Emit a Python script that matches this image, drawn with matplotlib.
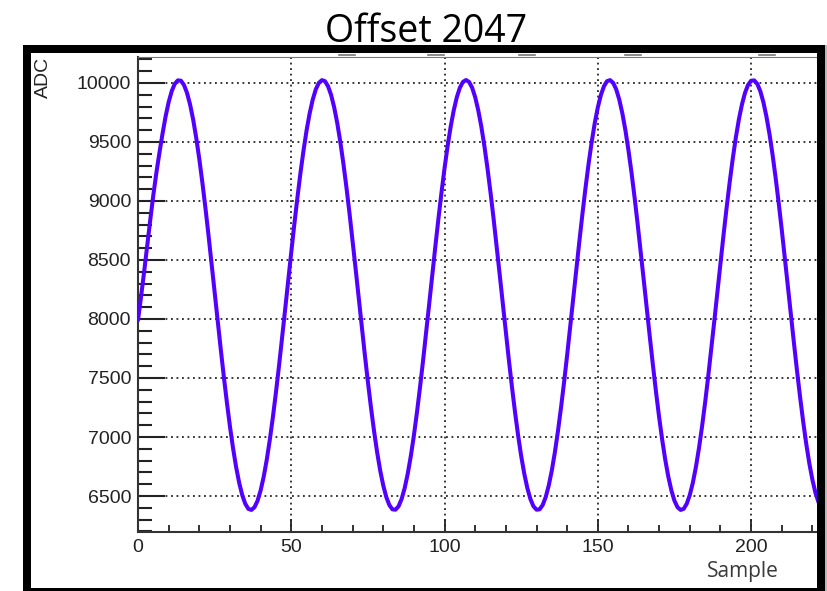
import numpy as np
import matplotlib.pyplot as plt
from matplotlib.patches import Rectangle
from matplotlib.lines import Line2D
from matplotlib.ticker import MultipleLocator

# ADC reading for each sample
adc = [
    7990, 8190, 8400, 8620, 8840, 9050, 9240, 9410, 9570, 9716,
    9838, 9931, 9993, 10022, 10019, 9983, 9915, 9816, 9689, 9534,
    9355, 9156, 8940, 8710, 8471, 8227, 7983, 7743, 7511, 7292,
    7089, 6906, 6746, 6613, 6508, 6434, 6391, 6382, 6405, 6460,
    6547, 6663, 6807, 6977, 7168, 7378, 7603, 7839, 8081, 8325,
    8567, 8803, 9028, 9238, 9429, 9599, 9743, 9859, 9946, 10001,
    10024, 10015, 9972, 9898, 9793, 9660, 9500, 9317, 9114, 8895,
    8663, 8423, 8179, 7935, 7696, 7466, 7250, 7051, 6872, 6717,
    6590, 6491, 6423, 6387, 6384, 6413, 6475, 6568, 6690, 6839,
    7013, 7209, 7422, 7649, 7887, 8130, 8374, 8615, 8849, 9071,
    9278, 9465, 9630, 9768, 9879, 9960, 10009, 10025, 10009, 9960,
    9879, 9768, 9630, 9465, 9278, 9071, 8849, 8615, 8374, 8130,
    7887, 7649, 7422, 7209, 7013, 6839, 6690, 6568, 6475, 6413,
    6384, 6387, 6423, 6491, 6590, 6717, 6872, 7051, 7250, 7466,
    7696, 7935, 8179, 8423, 8663, 8895, 9114, 9317, 9500, 9660,
    9793, 9898, 9972, 10015, 10024, 10001, 9946, 9859, 9743, 9599,
    9429, 9238, 9028, 8803, 8567, 8325, 8081, 7839, 7603, 7378,
    7168, 6977, 6807, 6663, 6547, 6460, 6405, 6382, 6391, 6434,
    6508, 6613, 6746, 6906, 7089, 7292, 7511, 7743, 7983, 8227,
    8471, 8710, 8940, 9156, 9355, 9534, 9689, 9816, 9915, 9983,
    10019, 10022, 9993, 9931, 9838, 9716, 9567, 9393, 9197, 8984,
    8757, 8519, 8276, 8032, 7791, 7557, 7335, 7128, 6941, 6776,
    6638, 6527, 6446,
]
samples = np.arange(len(adc))

title = "Offset 2047"
x_label = "Sample"
y_label = "ADC"
x_major = [0, 50, 100, 150, 200]
y_major = [6500, 7000, 7500, 8000, 8500, 9000, 9500, 10000]

W, H = 828, 591
fig = plt.figure(figsize=(W / 100, H / 100), dpi=100)


def fx(px):
    return px / W


def fy(py):
    return 1 - py / H


ax = fig.add_axes([fx(138), fy(532), fx(817) - fx(138), fy(57) - fy(532)])
ax.plot(samples, adc, color="#5200ff", lw=2.9, solid_joinstyle="round",
        solid_capstyle="round", zorder=3)
ax.set_xlim(0, 221.5)
ax.set_ylim(6195, 10220)

ax.set_xticks(x_major)
ax.set_yticks(y_major)
ax.xaxis.set_minor_locator(MultipleLocator(10))
ax.yaxis.set_minor_locator(MultipleLocator(100))
ax.tick_params(which="both", direction="in", top=False, right=False,
               colors="#222222", labelsize=14, pad=5)
ax.tick_params(axis="y", which="major", length=19.5, width=1.5)
ax.tick_params(axis="y", which="minor", length=10, width=1.5)
ax.tick_params(axis="x", which="major", length=9.5, width=1.3)
ax.tick_params(axis="x", which="minor", length=5, width=1.3)
for lab in ax.get_xticklabels() + ax.get_yticklabels():
    lab.set_fontfamily("Liberation Sans")
    lab.set_color("#222222")

ax.grid(True, which="major", color="black", linestyle=(0, (1.2, 2.4)),
        linewidth=1.1)

for side in ("left", "bottom"):
    ax.spines[side].set_linewidth(1.5)
    ax.spines[side].set_color("#333333")
ax.spines["top"].set_linewidth(0.8)
ax.spines["top"].set_color("#777777")
ax.spines["right"].set_visible(False)

# labels and title
fig.text(fx(426), fy(42), title, ha="center", va="baseline",
         fontsize=27, family="Open Sans", color="black")
fig.text(fx(779), fy(577), x_label, ha="right", va="baseline",
         fontsize=15, family="Open Sans", color="#3a3a3a")
fig.text(fx(43), fy(57), y_label, ha="center", va="top", rotation=90,
         fontsize=14, family="Liberation Sans", color="#222222")

# small grey dashes left over along the top of the pad
for x0 in (339, 428, 519, 625, 759):
    fig.add_artist(Line2D([fx(x0), fx(x0 + 16)], [fy(54.5), fy(54.5)],
                          transform=fig.transFigure, color="#777777",
                          lw=1.2, zorder=9))

# thick black pad border
bars = [
    (23, 45, 8, 546),    # left
    (23, 45, 803, 8),    # top
    (817, 45, 8, 546),   # right
    (23, 588, 803, 3),   # bottom
]
for x0, y0, w, h in bars:
    fig.add_artist(Rectangle((fx(x0), fy(y0 + h)), w / W, h / H,
                             transform=fig.transFigure, facecolor="black",
                             edgecolor="none", zorder=10))
fig.add_artist(Rectangle((fx(825), fy(591)), 3 / W, 546 / H,
                         transform=fig.transFigure, facecolor="#b8b8b8",
                         edgecolor="none", zorder=10))

fig.savefig("out.png", dpi=100)
